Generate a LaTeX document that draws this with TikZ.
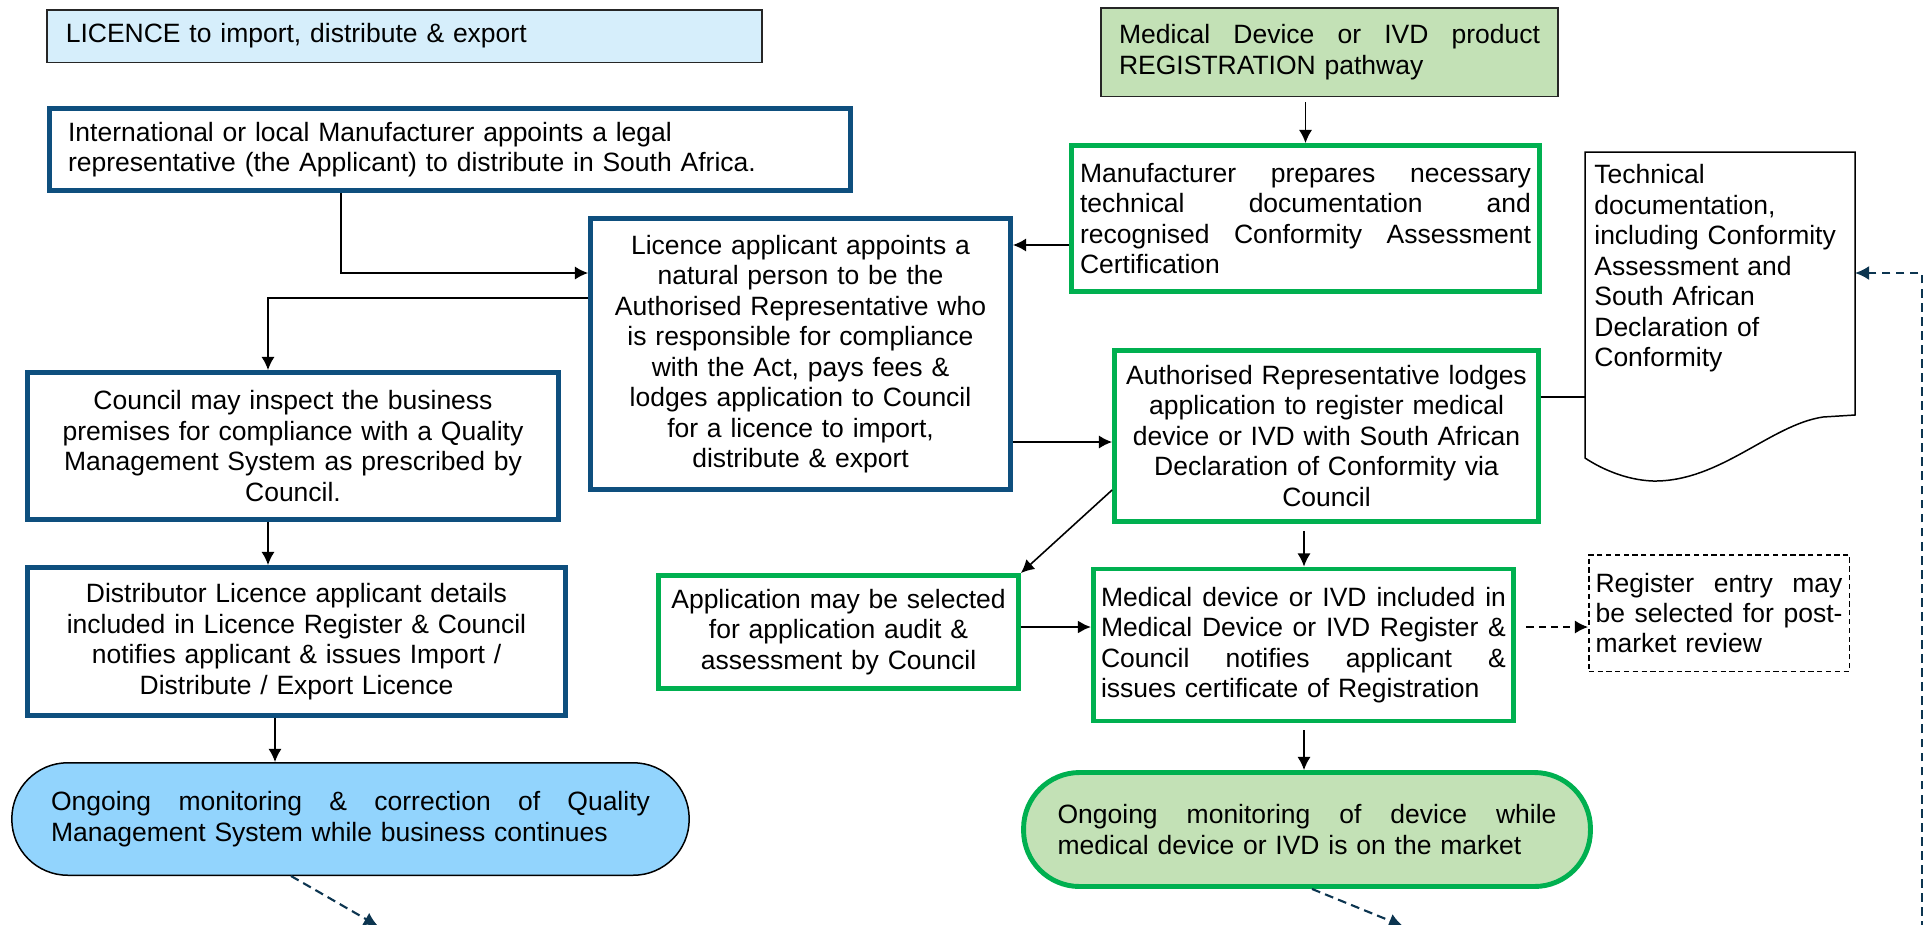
\documentclass[tikz,border=0pt]{standalone}
\usepackage{fontspec}
\setmainfont{Liberation Sans}
\usetikzlibrary{arrows.meta}
\definecolor{regblue}{HTML}{0E4F7E}
\definecolor{reggreen}{HTML}{00B050}
\definecolor{palegreen}{HTML}{C3E1B6}
\definecolor{paleblue}{HTML}{D6EEFB}
\definecolor{skyblue}{HTML}{92D4FD}
\definecolor{navy}{HTML}{0C3550}
\tikzset{
  lic/.style={draw=regblue, line width=2.8pt, inner sep=0pt},
  reg/.style={draw=reggreen, line width=2.8pt, inner sep=0pt},
  note/.style={draw=black!85, line width=0.85pt, inner sep=0pt},
  arr/.style={-{Latex[length=7.5pt,width=7.5pt]}, line width=0.9pt},
  dasharr/.style={-{Latex[length=8pt,width=8pt]}, navy, line width=1.2pt, dash pattern=on 5pt off 3pt}
}
\newcommand{\jl}[2]{\leavevmode\hbox to #1{#2}}
\begin{document}
\begin{tikzpicture}[x=0.02cm, y=-0.02cm, font=\fontsize{15.08}{17.35}\selectfont]
\useasboundingbox (0,0) rectangle (1932,924);

\node[note, fill=paleblue, minimum width=14.31cm, minimum height=1.05cm, text width=13.55cm, align=left] (licence) at (404.5,36) {LICENCE to import, distribute \& export};
\node[lic, minimum width=16.02cm, minimum height=1.64cm, text width=15.28cm, align=left] (appoint) at (450,149.5) {International or local Manufacturer appoints a legal\\ representative (the Applicant) to distribute in South Africa.};
\node[lic, minimum width=8.4cm, minimum height=5.42cm, text width=8cm, align=center] (applicant) at (800.5,354) {Licence applicant appoints a\\ natural person to be the\\ Authorised Representative who\\ is responsible for compliance\\ with the Act, pays fees \&\\ lodges application to Council\\ for a licence to import,\\ distribute \& export};
\node[lic, minimum width=10.62cm, minimum height=2.94cm, text width=10cm, align=center] (inspect) at (293,446) {Council may inspect the business\\ premises for compliance with a Quality\\ Management System as prescribed by\\ Council.};
\node[lic, minimum width=10.76cm, minimum height=2.96cm, text width=10cm, align=center] (register) at (296.5,641.5) {Distributor Licence applicant details\\ included in Licence Register \& Council\\ notifies applicant \& issues Import /\\ Distribute / Export Licence};
\node[note, draw=black, fill=skyblue, rounded corners=1.12cm, minimum width=13.55cm, minimum height=2.25cm, text width=11.98cm, align=left] (qms) at (350.5,819) {\jl{11.98cm}{Ongoing\hfill monitoring\hfill \&\hfill correction\hfill of\hfill Quality}\\ Management System while business continues};

\node[note, fill=palegreen, minimum width=9.15cm, minimum height=1.77cm, text width=8.42cm, align=left] (pathway) at (1329.5,52) {\jl{8.42cm}{Medical\hfill Device\hfill or\hfill IVD\hfill product}\\ REGISTRATION pathway};
\node[reg, minimum width=9.36cm, minimum height=2.92cm, text width=9.02cm, align=left] (prepare) at (1305.5,218.5) {\jl{9.02cm}{Manufacturer\hfill prepares\hfill necessary}\\ \jl{9.02cm}{technical\hfill documentation\hfill and}\\ \jl{9.02cm}{recognised\hfill Conformity\hfill Assessment}\\ Certification};
\node[reg, minimum width=8.48cm, minimum height=3.42cm, text width=8.2cm, align=center] (lodge) at (1326.5,436) {Authorised Representative lodges\\ application to register medical\\ device or IVD with South African\\ Declaration of Conformity via\\ Council};
\node[reg, minimum width=7.2cm, minimum height=2.26cm, text width=7cm, align=center] (audit) at (838.5,632) {Application may be selected\\ for application audit \&\\ assessment by Council};
\node[reg, minimum width=8.4cm, minimum height=3.04cm, text width=8.1cm, align=left] (included) at (1303.5,645) {\jl{8.1cm}{Medical\hfill device\hfill or\hfill IVD\hfill included\hfill in}\\ \jl{8.1cm}{Medical\hfill Device\hfill or\hfill IVD\hfill Register\hfill \&}\\ \jl{8.1cm}{Council\hfill notifies\hfill applicant\hfill \&}\\ issues certificate of Registration};
\node[note, draw=black, dash pattern=on 3pt off 2pt, minimum width=5.21cm, minimum height=2.33cm, text width=4.94cm, align=left] (review) at (1719,613) {\jl{4.94cm}{Register\hfill entry\hfill may}\\ \jl{4.94cm}{be\hfill selected\hfill for\hfill post-}\\ market review};
\node[reg, fill=palegreen, rounded corners=1.12cm, minimum width=11.34cm, minimum height=2.28cm, text width=9.98cm, align=left] (market) at (1307,829.5) {\jl{9.98cm}{Ongoing\hfill monitoring\hfill of\hfill device\hfill while}\\ medical device or IVD is on the market};

\draw[line width=0.85pt, fill=white] (1585,152) -- (1855,152) -- (1855,415) -- (1823,417) .. controls (1770,425) and (1720,482) .. (1653,481) .. controls (1625,480) and (1600,468) .. (1585,458) -- cycle;
\node[anchor=west, inner sep=0pt, text width=5.2cm, align=left] (techdoc) at (1594,268.5) {Technical\\ documentation,\\ including Conformity\\ Assessment and\\ South African\\ Declaration of\\ Conformity};

\coordinate (docin) at (1855,273);
\coordinate (docside) at (1585,397);
\coordinate (docfoot) at (1922,930);
\coordinate (qmsend) at (378,926);
\coordinate (marketend) at (1403,926);

\draw[arr] (appoint.south -| 341,0) |- (applicant.west |- 0,273);
\draw[arr] (applicant.west |- 0,298) -| (inspect.north -| 268,0);
\draw[arr] (inspect.south -| 268,0) -- (register.north -| 268,0);
\draw[arr] (register.south -| 275,0) -- (qms.north -| 275,0);
\draw[dasharr] (qms.south -| 291,0) -- (qmsend);

\draw[arr, shorten <=3pt] (pathway.south -| prepare.north) -- (prepare.north);
\draw[arr] (prepare.west |- 0,245) -- (applicant.east |- 0,245);
\draw[arr] (applicant.east |- 0,442) -- (lodge.west |- 0,442);
\draw[arr] (lodge.west |- 0,490) -- (audit.north east);
\draw[arr, shorten <=4pt] (lodge.south -| 1304,0) -- (included.north -| 1304,0);
\draw[arr, line width=1.6pt] (audit.east |- 0,627) -- (included.west |- 0,627);
\draw[arr, dash pattern=on 4pt off 3pt, shorten <=6pt] (included.east |- 0,627) -- (review.west |- 0,627);
\draw[arr, shorten <=4pt] (included.south -| 1304,0) -- (market.north -| 1304,0);
\draw[line width=0.9pt] (lodge.east |- docside) -- (docside);
\draw[dasharr] (market.south -| 1312,0) -- (marketend);
\draw[dasharr] (docfoot) |- (docin);
\end{tikzpicture}
\end{document}
